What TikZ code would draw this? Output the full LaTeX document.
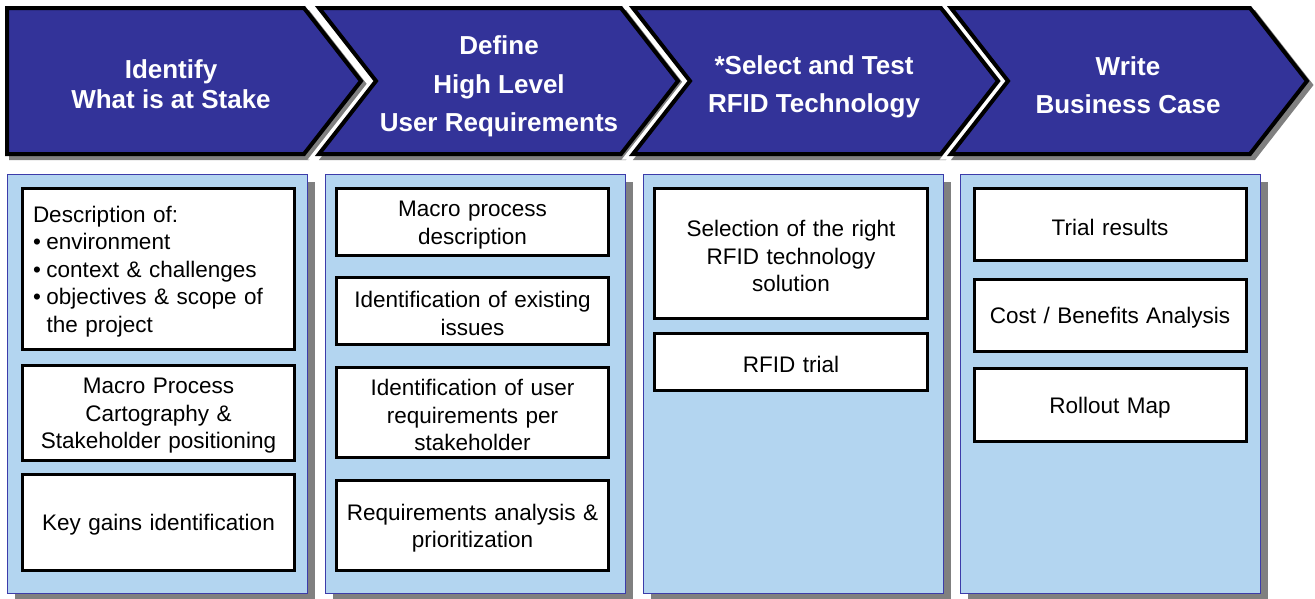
\documentclass[tikz,border=0pt]{standalone}
\usepackage{fontspec}
\setmainfont{Liberation Sans}
\definecolor{chevblue}{RGB}{51,51,153}
\definecolor{panelblue}{RGB}{179,213,240}
\definecolor{panelline}{RGB}{60,60,170}
\definecolor{shadowgray}{RGB}{128,128,128}
\newcommand{\bul}{\makebox[13.5pt][l]{\textbullet}}
\begin{document}
\begin{tikzpicture}[x=1pt,y=-1pt,
  chev/.style={fill=chevblue,draw=black,line width=4pt,line join=miter},
  chevshadow/.style={fill=shadowgray,draw=shadowgray,line width=4pt,line join=miter},
  chevhalo/.style={draw=white,line width=11pt,line join=miter},
  title/.style={text=white,font=\bfseries\fontsize{26}{38.5}\selectfont,align=center,inner sep=0pt},
  panel/.style={fill=panelblue,draw=panelline,line width=1pt,anchor=north west,minimum width=300pt,minimum height=419.5pt,inner sep=0pt},
  pshadow/.style={fill=shadowgray},
  box/.style={draw=black,fill=white,line width=3pt,align=center,text width=262pt,inner xsep=5pt,inner ysep=0pt,font=\fontsize{22.5}{27.5}\selectfont,execute at begin node={\rule{0pt}{21.5pt}}},
]
\useasboundingbox (0,0) rectangle (1315,598);

% chevron 1
\begin{scope}[shift={(4,4)}]
\draw[chevshadow] (7,8) -- (304,8) -- (361,81) -- (304,154) -- (7,154) -- cycle;
\end{scope}
\draw[chev] (7,8) -- (304,8) -- (361,81) -- (304,154) -- (7,154) -- cycle;

% chevron 2
\draw[chevhalo] (319,8) -- (621,8) -- (678,81) -- (621,154) -- (319,154) -- (376,81) -- cycle;
\begin{scope}[shift={(4,4)}]
\draw[chevshadow] (319,8) -- (621,8) -- (678,81) -- (621,154) -- (319,154) -- (376,81) -- cycle;
\end{scope}
\draw[chev] (319,8) -- (621,8) -- (678,81) -- (621,154) -- (319,154) -- (376,81) -- cycle;

% chevron 3
\draw[chevhalo] (633,8) -- (941,8) -- (998,81) -- (941,154) -- (633,154) -- (690,81) -- cycle;
\begin{scope}[shift={(4,4)}]
\draw[chevshadow] (633,8) -- (941,8) -- (998,81) -- (941,154) -- (633,154) -- (690,81) -- cycle;
\end{scope}
\draw[chev] (633,8) -- (941,8) -- (998,81) -- (941,154) -- (633,154) -- (690,81) -- cycle;

% chevron 4
\draw[chevhalo] (951,8) -- (1250,8) -- (1307,81) -- (1250,154) -- (951,154) -- (1008,81) -- cycle;
\begin{scope}[shift={(4,4)}]
\draw[chevshadow] (951,8) -- (1250,8) -- (1307,81) -- (1250,154) -- (951,154) -- (1008,81) -- cycle;
\end{scope}
\draw[chev] (951,8) -- (1250,8) -- (1307,81) -- (1250,154) -- (951,154) -- (1008,81) -- cycle;

% titles
\node[title] (t1) at (171,84) {Identify\\[-8.5pt]What is at Stake};
\node[title] (t2) at (499,86.5) {Define\\High Level\\User Requirements};
\node[title] (t3) at (814,87) {*Select and Test\\RFID Technology};
\node[title] (t4) at (1128,85) {Write\\Business Case};

% panels
\fill[pshadow] (15,181.5) rectangle (315,601);
\node[panel] (p1) at (7,173.5) {};
\fill[pshadow] (333,181.5) rectangle (633,601);
\node[panel] (p2) at (325,173.5) {};
\fill[pshadow] (651,181.5) rectangle (951,601);
\node[panel] (p3) at (643,173.5) {};
\fill[pshadow] (968,181.5) rectangle (1268,601);
\node[panel] (p4) at (960,173.5) {};

% panel 1 boxes
\node[box,align=left,text width=251pt,inner xsep=10.5pt,minimum width=272pt,minimum height=161pt] (a1) at (158.5,269)
 {Description of:\\\bul environment\\\bul context \& challenges\\\bul objectives \& scope of\\\hspace*{13.5pt}the project};
\node[box,minimum width=272pt,minimum height=95pt] (a2) at (158.5,413) {Macro Process\\Cartography \&\\Stakeholder positioning};
\node[box,minimum width=272pt,minimum height=96pt] (a3) at (158.5,522.5) {Key gains identification};

% panel 2 boxes
\node[box,minimum width=272pt,minimum height=67pt] (b1) at (472.5,222) {Macro process\\description};
\node[box,minimum width=272pt,minimum height=67pt] (b2) at (472.5,311) {Identification of existing\\issues};
\node[box,minimum width=272pt,minimum height=90pt] (b3) at (472.5,412.5) {Identification of user\\requirements per\\stakeholder};
\node[box,minimum width=272pt,minimum height=90pt] (b4) at (472.5,525.5) {Requirements analysis \&\\prioritization};

% panel 3 boxes
\node[box,minimum width=273pt,minimum height=130pt] (c1) at (791,253.5) {Selection of the right\\RFID technology\\solution};
\node[box,minimum width=273pt,minimum height=57pt] (c2) at (791,362) {RFID trial};

% panel 4 boxes
\node[box,minimum width=271pt,minimum height=72pt] (d1) at (1110,224.5) {Trial results};
\node[box,minimum width=271pt,minimum height=72pt] (d2) at (1110,315.5) {Cost / Benefits Analysis};
\node[box,minimum width=271pt,minimum height=73pt] (d3) at (1110,405) {Rollout Map};
\end{tikzpicture}
\end{document}
